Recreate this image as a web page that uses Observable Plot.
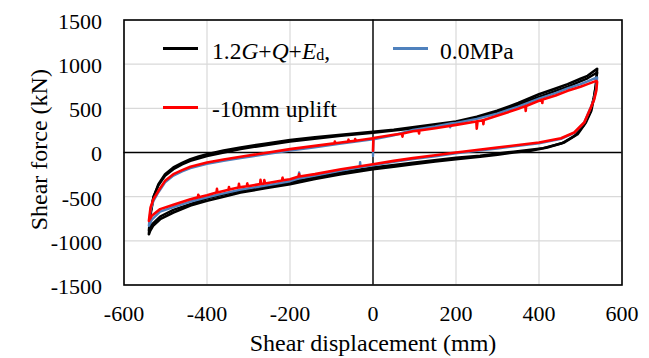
<!DOCTYPE html>
<html>
<head>
<meta charset="utf-8">
<script src="https://cdn.jsdelivr.net/npm/d3@7"></script>
<script src="https://cdn.jsdelivr.net/npm/@observablehq/plot@0.6"></script>
<style>
  html, body { margin: 0; padding: 0; background: #fff; }
  #chart { width: 649px; height: 358px; }
  #chart svg, #chart svg text { font-family: "Liberation Serif", "Times New Roman", serif !important; }
</style>
</head>
<body>
<div id="chart"></div>
<script>
const xTicks = [-600, -400, -200, 0, 200, 400, 600];
const yTicks = [-1500, -1000, -500, 0, 500, 1000, 1500];
const xTitle = "Shear displacement (mm)";
const yTitle = "Shear force (kN)";
const seriesNames = ["1.2G+Q+Ed,", "0.0MPa", "-10mm uplift"];
const seriesColors = ["#000000", "#4f81bd", "#ff0000"];

// 1.2G+Q+Ed — outer cycle
const blackA = [
  [-540,-925],[-536,-698],[-529,-509],[-517,-358],[-501,-245],[-481,-170],[-460,-118],[-440,-75],[-420,-45],[-400,-19],
  [-360,22],[-319,57],[-260,100],[-200,140],[-140,172],[-77,200],[0,234],[50,258],[100,288],[150,318],[200,351],
  [250,405],[299,472],[350,560],[400,660],[440,725],[469,774],[500,835],[517,868],[540,948],
  [538,800],[534,660],[526,472],[513,340],[493,208],[461,113],[420,57],[380,19],[339,0],[300,-25],[258,-49],
  [200,-75],[150,-102],[96,-132],[50,-160],[0,-189],[-77,-245],[-140,-300],[-200,-358],[-260,-405],[-319,-453],
  [-360,-500],[-400,-547],[-440,-600],[-481,-679],[-513,-755],[-530,-830],[-537,-887],[-540,-925]
];
// 1.2G+Q+Ed — inner cycle
const blackB = [
  [-540,-880],[-536,-680],[-529,-500],[-517,-370],[-501,-265],[-481,-190],[-460,-135],[-440,-95],[-400,-40],
  [-319,40],[-200,125],[-77,188],[0,222],[100,275],[200,335],[299,450],[400,630],[469,745],[517,840],[540,905],
  [537,760],[532,620],[523,450],[508,310],[486,190],[455,105],[410,50],[339,10],[258,-35],[200,-60],[96,-115],
  [0,-170],[-77,-225],[-200,-335],[-319,-430],[-400,-520],[-481,-650],[-513,-725],[-532,-810],[-540,-880]
];
// 0.0MPa
const blue = [
  [0,-40],[1,150],[50,195],[96,255],[150,295],[185,325],[186,285],[187,328],[200,335],[250,380],[299,440],
  [350,520],[400,610],[440,672],[469,725],[500,775],[517,805],[540,850],
  [538,720],[533,610],[525,515],[509,340],[485,222],[453,155],[400,105],[350,75],[299,45],[250,18],[200,-10],
  [150,-42],[96,-75],[50,-105],[0,-145],[-30,-165],[-31,-110],[-32,-167],[-77,-205],[-140,-262],[-176,-292],
  [-178,-225],[-180,-295],[-200,-325],[-260,-375],[-319,-420],[-360,-462],[-400,-507],[-440,-555],[-481,-617],
  [-513,-670],[-533,-760],[-540,-830],
  [-536,-650],[-529,-548],[-517,-450],[-501,-338],[-481,-262],[-460,-215],[-440,-177],[-400,-128],[-360,-95],
  [-319,-64],[-260,-20],[-200,22],[-140,60],[-77,100],[0,150]
];
// -10mm uplift
const red = [
  [0,20],[1,165],[50,200],[70,212],[71,180],[72,214],[96,240],[110,248],[111,215],[112,250],[150,275],[200,313],
  [249,352],[250,270],[252,354],[265,365],[266,320],[267,367],[299,415],[350,495],[367,525],[368,470],[369,527],
  [400,585],[407,597],[408,560],[409,599],[440,645],[469,698],[500,745],[517,774],[538,811],
  [540,800],[538,700],[533,600],[525,509],[509,340],[485,226],[453,162],[400,113],[350,85],[299,57],[250,28],
  [200,0],[150,-32],[96,-64],[50,-95],[0,-132],[-77,-189],[-140,-245],[-177,-272],[-178,-245],[-179,-273],
  [-200,-302],[-217,-315],[-218,-285],[-219,-316],[-260,-350],[-262,-312],[-263,-352],[-270,-357],[-271,-310],
  [-272,-358],[-302,-382],[-303,-350],[-304,-383],[-322,-395],[-323,-355],[-324,-396],[-346,-420],[-347,-390],
  [-348,-421],[-375,-452],[-376,-412],[-377,-453],[-400,-483],[-420,-506],[-421,-478],[-422,-508],[-440,-530],
  [-481,-592],[-513,-641],[-533,-717],[-540,-774],
  [-536,-623],[-529,-528],[-517,-434],[-501,-321],[-481,-245],[-460,-200],[-440,-162],[-400,-113],[-360,-80],
  [-319,-49],[-260,-5],[-200,38],[-140,75],[-93,103],[-92,125],[-91,104],[-77,113],[-60,123],[-59,145],[-58,124],
  [-44,132],[-43,152],[-42,133],[0,162]
];

const font = "Liberation Serif, Times New Roman, serif";
const lineOpts = (c, w) => ({ stroke: c, strokeWidth: w, strokeLinejoin: "round", strokeLinecap: "round" });

const chart = Plot.plot({
  width: 649,
  height: 358,
  marginLeft: 123.5,
  marginRight: 27.5,
  marginTop: 19.5,
  marginBottom: 73.5,
  x: { domain: [-600, 600] },
  y: { domain: [-1500, 1500] },
  style: "font-family: 'Liberation Serif', 'Times New Roman', serif; font-size: 22px; background: white; color: black; overflow: visible;",
  marks: [
    Plot.gridX(xTicks, { stroke: "#d9d9d9", strokeOpacity: 1, strokeWidth: 1.2 }),
    Plot.gridY(yTicks, { stroke: "#d9d9d9", strokeOpacity: 1, strokeWidth: 1.2 }),
    Plot.ruleX([0], { stroke: "black", strokeWidth: 1.4 }),
    Plot.ruleY([0], { stroke: "black", strokeWidth: 1.4 }),
    Plot.line(blackA, lineOpts(seriesColors[0], 2.6)),
    Plot.line(blackB, lineOpts(seriesColors[0], 2.4)),
    Plot.line(blue, lineOpts(seriesColors[1], 2.4)),
    Plot.line(red, lineOpts(seriesColors[2], 2.6)),
    Plot.frame({ stroke: "black", strokeWidth: 1.6 }),
    Plot.axisX(xTicks, { tickSize: 0, tickPadding: 20, fontSize: 22, fontFamily: font, label: null, tickFormat: d => `${d}` }),
    Plot.axisY(yTicks, { tickSize: 0, tickPadding: 22, dy: 1.8, fontSize: 22, fontFamily: font, label: null, tickFormat: d => `${d}` }),
    Plot.text([xTitle], { frameAnchor: "bottom", textAnchor: "middle", lineAnchor: "middle", dy: 58.8, fontSize: 24, fontFamily: font }),
    Plot.text([yTitle], { frameAnchor: "left", textAnchor: "middle", lineAnchor: "middle", dx: -84.5, dy: -2.8, rotate: -90, fontSize: 24, fontFamily: font })
  ]
});

document.getElementById("chart").appendChild(chart);

// Legend (inside plot area, no box)
const svg = d3.select(chart);
const lg = svg.append("g").attr("font-family", font).attr("font-size", 23.5)
  .attr("fill", "black").attr("text-anchor", "start");
const items = [
  { c: seriesColors[0], x: 163, y: 48.5, tx: 212, ty: 59.3 },
  { c: seriesColors[1], x: 393, y: 48.5, tx: 440, ty: 59.3 },
  { c: seriesColors[2], x: 163, y: 107.5, tx: 212, ty: 117.3 }
];
items.forEach((it, i) => {
  lg.append("line").attr("x1", it.x).attr("x2", it.x + 35).attr("y1", it.y).attr("y2", it.y)
    .attr("stroke", it.c).attr("stroke-width", 3);
  const t = lg.append("text").attr("x", it.tx).attr("y", it.ty).attr("text-anchor", "start");
  if (i === 0) {
    t.append("tspan").text("1.2");
    t.append("tspan").attr("font-style", "italic").text("G");
    t.append("tspan").text("+");
    t.append("tspan").attr("font-style", "italic").text("Q");
    t.append("tspan").text("+");
    t.append("tspan").attr("font-style", "italic").text("E");
    t.append("tspan").attr("font-size", 16).attr("dy", 1).text("d");
    t.append("tspan").attr("dy", -1).text(",");
  } else {
    t.text(seriesNames[i]);
  }
});
</script>
</body>
</html>
